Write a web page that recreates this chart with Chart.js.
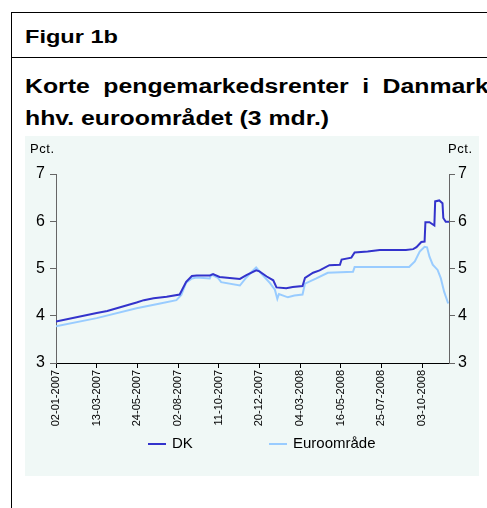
<!DOCTYPE html>
<html>
<head>
<meta charset="utf-8">
<script src="https://cdn.jsdelivr.net/npm/chart.js@4.4.1/dist/chart.umd.min.js"></script>
<style>
  body { margin: 0; width: 487px; height: 508px; overflow: hidden; background: #fff; position: relative; font-family: Arial, "Liberation Sans", sans-serif; color: #000; }
  .frame { position: absolute; left: 11px; top: 12px; width: 600px; height: 600px; border-left: 1px solid #000; border-top: 1px solid #000; }
  .rule { position: absolute; left: 11px; top: 57px; width: 600px; height: 1px; background: #000; }
  .title { position: absolute; left: 25px; font-weight: bold; white-space: nowrap; transform-origin: 0 0; transform: scaleX(1.24); }
  #fig { top: 27px; font-size: 19px; line-height: 19px; }
  #line1 { top: 76px; font-size: 20px; line-height: 20px; width: 374px; text-align: justify; text-align-last: justify; }
  #line2 { top: 108px; font-size: 20px; line-height: 20px; }
  .panel { position: absolute; left: 25px; top: 136px; width: 454px; height: 340px; background: #F0F8F6; }
  canvas { position: absolute; left: 0; top: 0; }
  .unit { position: absolute; top: 5px; font-size: 13px; letter-spacing: 0.6px; }
  .legend { position: absolute; top: 298px; font-size: 15px; line-height: 18px; white-space: nowrap; }
  .legend span.mark { display: inline-block; width: 18px; height: 2px; vertical-align: middle; margin-right: 6px; }
</style>
</head>
<body>
<div class="frame"></div>
<div class="rule"></div>
<div class="title" id="fig">Figur 1b</div>
<div class="title" id="line1">Korte pengemarkedsrenter i Danmark</div>
<div class="title" id="line2">hhv. euroområdet (3 mdr.)</div>
<div class="panel">
  <canvas id="chart" width="454" height="340"></canvas>
  <div class="unit" style="left:5px">Pct.</div>
  <div class="unit" style="left:423px">Pct.</div>
  <div class="legend" id="legDK" style="left:123px"><span class="mark"></span>DK</div>
  <div class="legend" id="legEU" style="left:244px"><span class="mark"></span>Euroområde</div>
</div>
<script>
// business day counted from 02-01-2007
const tickLabels = ['02-01-2007', '13-03-2007', '24-05-2007', '02-08-2007', '11-10-2007',
  '20-12-2007', '04-03-2008', '16-05-2008', '25-07-2008', '03-10-2008'];
const tickStep = 50;
const lastDay = 483;

const dkDays = [0, 50, 63, 99, 108, 120, 136, 152, 155, 160, 167, 173, 189, 193, 201, 226, 234, 246, 250, 259,
  267, 271, 283, 291, 303, 306, 316, 324, 336, 349, 351, 363, 367, 383, 398, 430, 439, 443, 449, 453,
  454, 459, 465, 466, 471, 475, 476, 479, 483];
const dkValues = [3.88, 4.06, 4.10, 4.28, 4.33, 4.37, 4.40, 4.45, 4.55, 4.72, 4.84, 4.85, 4.85, 4.88, 4.82, 4.78, 4.86, 4.96, 4.94, 4.83,
  4.75, 4.60, 4.58, 4.61, 4.63, 4.80, 4.91, 4.96, 5.07, 5.08, 5.19, 5.23, 5.34, 5.36, 5.39, 5.39, 5.41, 5.45, 5.56, 5.57,
  5.98, 5.98, 5.91, 6.42, 6.44, 6.38, 6.07, 5.99, 5.99];

const euDays = [0, 50, 99, 128, 148, 154, 160, 167, 173, 189, 191, 199, 203, 226, 234, 240, 246, 252, 263, 269,
  272, 274, 285, 293, 303, 306, 320, 334, 365, 367, 434, 441, 447, 453, 456, 459, 463, 469, 473, 477, 482];
const euValues = [3.78, 3.95, 4.16, 4.26, 4.33, 4.44, 4.70, 4.79, 4.81, 4.79, 4.87, 4.80, 4.71, 4.64, 4.81, 4.92, 5.02, 4.90, 4.69, 4.55,
  4.36, 4.46, 4.39, 4.43, 4.45, 4.68, 4.79, 4.91, 4.93, 5.03, 5.03, 5.15, 5.36, 5.46, 5.45, 5.25, 5.08, 4.97, 4.79, 4.51, 4.26];

const dkColor = '#3333CC';
const euColor = '#99CCFF';
const axisColor = '#666666';

document.querySelector('#legDK .mark').style.background = dkColor;
document.querySelector('#legEU .mark').style.background = euColor;

function toPoints(days, values) {
  return days.map((d, i) => ({ x: d, y: values[i] }));
}

function yAxis(position, width, pad) {
  return {
    position: position,
    min: 3,
    max: 7,
    ticks: { stepSize: 1, color: '#000', font: { size: 16 }, padding: pad },
    grid: { drawOnChartArea: false, tickLength: 6, color: axisColor },
    border: { color: axisColor },
    afterFit: (scale) => { scale.width = width; },
  };
}

Chart.defaults.font.family = 'Arial, "Liberation Sans", sans-serif';

const ctx = document.getElementById('chart').getContext('2d');
new Chart(ctx, {
  type: 'line',
  data: {
    datasets: [
      {
        label: 'DK',
        data: toPoints(dkDays, dkValues),
        borderColor: dkColor,
        borderWidth: 2,
        pointRadius: 0,
        tension: 0,
        yAxisID: 'y',
      },
      {
        label: 'Euroområde',
        data: toPoints(euDays, euValues),
        borderColor: euColor,
        borderWidth: 2,
        pointRadius: 0,
        tension: 0,
        yAxisID: 'y',
      },
    ],
  },
  options: {
    responsive: false,
    animation: false,
    layout: { padding: { top: 38, bottom: 47, left: 0, right: 0 } },
    plugins: { legend: { display: false }, tooltip: { enabled: false } },
    scales: {
      x: {
        type: 'linear',
        min: 0,
        max: lastDay,
        afterBuildTicks: (scale) => {
          scale.ticks = tickLabels.map((t, i) => ({ value: i * tickStep }));
        },
        ticks: {
          autoSkip: false,
          minRotation: 90,
          maxRotation: 90,
          color: '#000',
          font: { size: 11 },
          padding: 2,
          callback: (value, index) => tickLabels[index],
        },
        grid: { drawOnChartArea: false, tickLength: 5, color: '#000' },
        border: { color: '#000' },
        afterFit: (scale) => { scale.height = 66; },
      },
      y: yAxis('left', 31, 5),
      y2: yAxis('right', 30, 3),
    },
  },
});
</script>
</body>
</html>
